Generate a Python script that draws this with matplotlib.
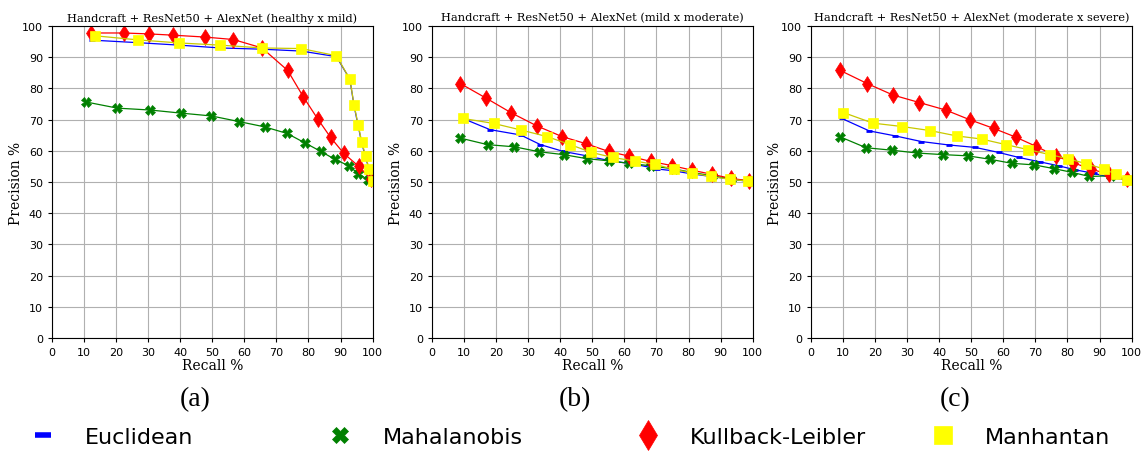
import matplotlib
matplotlib.use('Agg')
import matplotlib.pyplot as plt
from matplotlib.lines import Line2D

plt.rcParams['font.family'] = 'DejaVu Sans'

titles = ['Handcraft + ResNet50 + AlexNet (healthy x mild)',
          'Handcraft + ResNet50 + AlexNet (mild x moderate)',
          'Handcraft + ResNet50 + AlexNet (moderate x severe)']
sub_labels = ['(a)', '(b)', '(c)']
names = ['Euclidean', 'Mahalanobis', 'Kullback-Leibler', 'Manhantan']

# (a) healthy x mild
a_euc_r = [12.6, 26.7, 39.7, 52.5, 65.5, 77.8, 88.7, 92.9, 94.2, 95.5, 96.6, 97.8, 98.9, 100]
a_euc_p = [95.5, 94.7, 93.9, 93.0, 92.6, 92.0, 90.2, 83.0, 74.5, 68.0, 62.5, 58.0, 54.0, 50.3]
a_mah_r = [10.5, 20.4, 30.6, 40.3, 49.7, 58.3, 66.3, 73.3, 78.8, 83.9, 88.2, 92.6, 95.5, 98.7]
a_mah_p = [75.7, 73.7, 73.1, 72.1, 71.2, 69.4, 67.7, 65.6, 62.6, 59.8, 57.3, 55.2, 52.7, 50.6]
a_kl_r = [12.2, 22.3, 30.3, 37.7, 47.6, 56.6, 65.5, 73.5, 78.4, 82.9, 86.9, 91.0, 95.7, 99.6]
a_kl_p = [97.8, 97.8, 97.5, 97.1, 96.5, 95.7, 93.0, 85.8, 77.3, 70.2, 64.3, 59.2, 55.0, 50.9]
a_man_r = [13.4, 26.7, 39.7, 52.5, 65.5, 77.8, 88.7, 92.9, 94.2, 95.5, 96.6, 97.8, 98.9, 100]
a_man_p = [96.9, 95.6, 94.6, 93.9, 93.0, 92.8, 90.5, 83.0, 74.8, 68.3, 62.9, 58.4, 54.2, 50.5]

# (b) mild x moderate
b_euc_r = [9.6, 18.1, 27.6, 33.8, 41.0, 48.3, 55.6, 62.9, 70.2, 75.4, 81.1, 87.0, 93.0, 98.8]
b_euc_p = [70.4, 66.8, 65.1, 62.0, 59.8, 58.4, 56.8, 55.8, 54.2, 53.6, 52.6, 51.8, 51.0, 50.2]
b_mah_r = [8.8, 17.3, 25.7, 33.5, 41.0, 48.3, 55.1, 61.5, 68.3, 75.4, 81.1, 87.2, 93.1, 98.8]
b_mah_p = [64.1, 62.0, 61.3, 59.7, 58.8, 57.5, 56.8, 56.0, 55.2, 54.2, 53.1, 52.0, 51.0, 50.3]
b_kl_r = [8.8, 16.7, 24.7, 32.7, 40.5, 48.0, 55.1, 61.5, 68.3, 74.7, 81.1, 87.2, 93.1, 98.8]
b_kl_p = [81.6, 77.0, 72.2, 68.0, 64.6, 62.3, 59.8, 58.3, 56.6, 55.3, 53.8, 52.5, 51.2, 50.4]
b_man_r = [9.6, 19.2, 27.7, 35.8, 43.1, 49.7, 56.3, 63.3, 69.4, 75.4, 81.1, 86.9, 92.8, 98.7]
b_man_p = [70.4, 68.8, 66.7, 64.6, 62.0, 59.5, 57.9, 56.7, 55.7, 54.1, 52.9, 51.8, 50.9, 50.3]

# (c) moderate x severe
c_euc_r = [9.6, 18.2, 26.3, 34.4, 42.9, 51.3, 58.5, 64.8, 71.3, 77.3, 82.5, 88.2, 93.4, 98.6]
c_euc_p = [70.4, 66.4, 64.8, 63.0, 61.9, 61.1, 59.5, 57.9, 56.5, 55.2, 53.9, 52.8, 51.5, 50.6]
c_mah_r = [9.1, 17.2, 25.4, 33.2, 41.2, 49.0, 55.9, 62.7, 69.7, 75.8, 81.5, 86.8, 93.7, 98.7]
c_mah_p = [64.5, 61.0, 60.2, 59.3, 58.8, 58.4, 57.3, 56.0, 55.5, 54.3, 53.1, 51.8, 52.0, 50.6]
c_kl_r = [9.1, 17.5, 25.6, 33.8, 42.0, 49.5, 57.0, 63.9, 70.3, 76.3, 81.8, 87.2, 92.9, 98.6]
c_kl_p = [85.8, 81.6, 77.9, 75.5, 73.1, 70.0, 67.2, 64.4, 61.4, 58.4, 56.2, 54.2, 52.5, 51.0]
c_man_r = [10.1, 19.3, 28.5, 37.2, 45.4, 53.2, 60.8, 67.7, 74.5, 80.1, 85.8, 91.4, 95.2, 98.7]
c_man_p = [72.3, 68.9, 67.8, 66.5, 64.8, 63.8, 62.0, 60.4, 58.8, 57.5, 55.9, 54.2, 52.5, 50.6]

panels = [
    [(a_euc_r, a_euc_p), (a_mah_r, a_mah_p), (a_kl_r, a_kl_p), (a_man_r, a_man_p)],
    [(b_euc_r, b_euc_p), (b_mah_r, b_mah_p), (b_kl_r, b_kl_p), (b_man_r, b_man_p)],
    [(c_euc_r, c_euc_p), (c_mah_r, c_mah_p), (c_kl_r, c_kl_p), (c_man_r, c_man_p)],
]

# estilo de cada serie: cor da linha, marcador, cor do marcador, tamanho
styles = [
    dict(color='blue', marker='_', mfc='blue', mec='blue', ms=5, mew=2),
    dict(color='green', marker='X', mfc='green', mec='green', ms=7, mew=0.5),
    dict(color='red', marker='d', mfc='red', mec='red', ms=8, mew=0.5),
    dict(color='#c8c800', marker='s', mfc='yellow', mec='yellow', ms=6.5, mew=0.5),
]

fig = plt.figure(figsize=(11.43, 4.52), dpi=100)
lefts = [0.0455, 0.378, 0.7095]

for i, series in enumerate(panels):
    ax = fig.add_axes([lefts[i], 0.25, 0.2805, 0.69])
    for (r, p), st in zip(series, styles):
        ax.plot(r, p, linewidth=0.9, **st)
    ax.set_xlim(0, 100)
    ax.set_ylim(0, 100)
    ax.set_xticks(range(0, 101, 10))
    ax.set_yticks(range(0, 101, 10))
    ax.tick_params(labelsize=8, length=3)
    ax.grid(True, color='#b0b0b0', linewidth=0.8)
    ax.set_axisbelow(True)
    ax.set_title(titles[i], fontsize=8.2, family='DejaVu Serif', pad=4)
    ax.set_xlabel('Recall %', fontsize=10, family='DejaVu Serif', labelpad=1)
    ax.set_ylabel('Precision %', fontsize=10, family='DejaVu Serif', labelpad=-1)

# rótulos (a), (b), (c)
for x, lab in zip([0.171, 0.503, 0.836], sub_labels):
    fig.text(x, 0.115, lab, fontsize=20, family='Liberation Serif',
             ha='center', va='center')

# legenda em baixo, cada entrada posicionada à mão
leg_styles = [
    dict(marker='_', color='blue', ms=12, mew=4),
    dict(marker='X', color='green', ms=12, mew=0.5),
    dict(marker='d', color='red', ms=15, mew=0.5),
    dict(marker='s', color='yellow', ms=13, mew=0.5),
]
leg_x = [0.028, 0.288, 0.557, 0.815]
for x, name, st in zip(leg_x, names, leg_styles):
    h = Line2D([], [], linestyle='none', **st)
    fig.legend([h], [name], loc='center left', bbox_to_anchor=(x, 0.031),
               frameon=False, fontsize=16, handlelength=1.0,
               handletextpad=1.4, borderpad=0, borderaxespad=0)

plt.savefig('out.png', dpi=100)
